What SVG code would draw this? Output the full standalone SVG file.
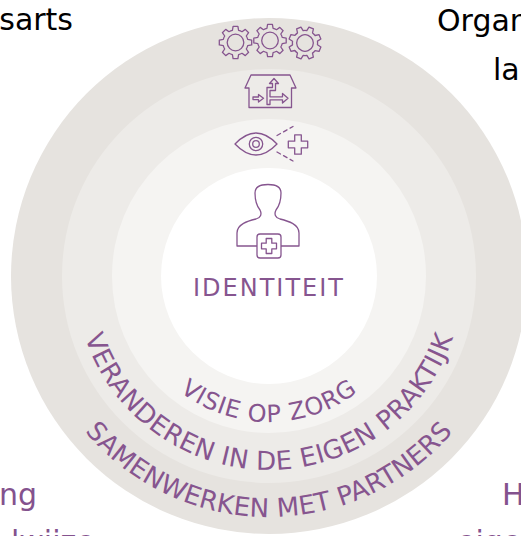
<svg xmlns="http://www.w3.org/2000/svg" xmlns:xlink="http://www.w3.org/1999/xlink" width="521" height="536" viewBox="0 0 521 536">
<style>
.ic{fill:none;stroke:#86558F;stroke-width:1.3;stroke-linejoin:round;stroke-linecap:round}
.icw{fill:#ffffff;stroke:#86558F;stroke-width:1.3;stroke-linejoin:round}
.ring{font-family:"DejaVu Sans",Verdana,sans-serif;fill:#86558F}
.corner{font-family:"DejaVu Sans",Verdana,sans-serif;font-size:30px}
</style>
<defs>
<path id="gear" d="M-3.1,-12.2 L-2.4,-16.2 L2.4,-16.2 L3.1,-12.2 A12.6,12.6 0 0 1 6.5,-10.8 L9.8,-13.1 L13.1,-9.8 L10.8,-6.5 A12.6,12.6 0 0 1 12.2,-3.1 L16.2,-2.4 L16.2,2.4 L12.2,3.1 A12.6,12.6 0 0 1 10.8,6.5 L13.1,9.8 L9.8,13.1 L6.5,10.8 A12.6,12.6 0 0 1 3.1,12.2 L2.4,16.2 L-2.4,16.2 L-3.1,12.2 A12.6,12.6 0 0 1 -6.5,10.8 L-9.8,13.1 L-13.1,9.8 L-10.8,6.5 A12.6,12.6 0 0 1 -12.2,3.1 L-16.2,2.4 L-16.2,-2.4 L-12.2,-3.1 A12.6,12.6 0 0 1 -10.8,-6.5 L-13.1,-9.8 L-9.8,-13.1 L-6.5,-10.8 A12.6,12.6 0 0 1 -3.1,-12.2 Z M8.3,0 A8.3,8.3 0 1 0 -8.3,0 A8.3,8.3 0 1 0 8.3,0 Z"/>
<path id="arcVisie" d="M123,276 A146,146 0 0 0 415,276"/>
<path id="arcVeranderen" d="M75,276 A194,194 0 0 0 463,276"/>
<path id="arcSamen" d="M28,276 A241,241 0 0 0 510,276"/>
</defs>
<rect width="521" height="536" fill="#ffffff"/>

<g id="corner-labels">
<text class="corner" x="73" y="30" text-anchor="end" fill="#000000">sarts</text>
<text class="corner" x="437" y="31" fill="#000000">Organ</text>
<text class="corner" x="493" y="80" fill="#000000">la</text>
<text class="corner" x="37" y="505" text-anchor="end" fill="#84528E">ng</text>
<text class="corner" x="11" y="552" fill="#84528E">lwijze</text>
<text class="corner" x="502" y="505" fill="#84528E">H</text>
<text class="corner" x="457" y="552" fill="#84528E">eigen</text>
</g>

<g id="ring-samenwerken">
<circle cx="269" cy="276" r="258" fill="#E6E3DF"/>
<text class="ring" font-size="26" letter-spacing="0.3"><textPath xlink:href="#arcSamen" startOffset="50%" text-anchor="middle">SAMENWERKEN MET PARTNERS</textPath></text>
</g>
<g id="ring-veranderen">
<circle cx="269" cy="276" r="207" fill="#EDEBE8"/>
<text class="ring" font-size="26" letter-spacing="0.5"><textPath xlink:href="#arcVeranderen" startOffset="50%" text-anchor="middle">VERANDEREN IN DE EIGEN PRAKTIJK</textPath></text>
</g>
<g id="ring-visie">
<circle cx="269" cy="276" r="157" fill="#F5F4F2"/>
<text class="ring" font-size="24" letter-spacing="0.9"><textPath xlink:href="#arcVisie" startOffset="50%" text-anchor="middle">VISIE OP ZORG</textPath></text>
</g>
<g id="identiteit">
<circle cx="269" cy="276" r="108" fill="#FFFFFF"/>
<text class="ring" x="269" y="296" font-size="24" letter-spacing="2" text-anchor="middle">IDENTITEIT</text>
</g>

<g id="icon-gears">
<use xlink:href="#gear" class="ic" transform="translate(235.5,42.5)"/>
<use xlink:href="#gear" class="ic" transform="translate(270,40.5)"/>
<use xlink:href="#gear" class="ic" transform="translate(305,43) rotate(22.5)"/>
</g>

<g id="icon-house">
<path class="ic" d="M249,107.5 V88 H245 L251,75 H290 L296,88 H291.5 V107.5 Z"/>
<path class="ic" d="M253,97 H258.5 V94.5 L263.5,98.3 L258.5,102 V99.6 H253 Z"/>
<path class="ic" d="M267,104.5 V87.5 H272.5 V83.5 H269.5 L274,78.5 L278.5,83.5 H275.5 V90.5 H270 V96.8 H282.5 V93.5 L288,98.3 L282.5,103 V99.8 H270 V104.5 Z"/>
</g>

<g id="icon-eye">
<path class="ic" d="M235,144 Q256,122 277,144 Q256,166 235,144 Z"/>
<circle class="ic" cx="256" cy="144" r="6.7"/>
<circle class="ic" cx="256" cy="144" r="3.3"/>
<path class="ic" d="M277,135.5 L293,126.5 M277,152 L293,161" stroke-dasharray="4 3.5"/>
<path class="ic" d="M294.7,134.8 H301.3 V141.2 H307.7 V147.8 H301.3 V154.2 H294.7 V147.8 H288.3 V141.2 H294.7 Z"/>
</g>

<g id="icon-person">
<path class="ic" d="M257,246 H237 V233 C237,224 248,221 256,219 C261,217.5 262,214 260,210 C256,205 255,199 255,193 C255,187 260,184.5 268,184.5 C276,184.5 281,187 281,193 C281,199 280,205 276,210 C274,214 275,217.5 280,219 C288,221 299,224 299,233 V246 H281"/>
<rect class="icw" x="257" y="234" width="24" height="24" rx="3"/>
<path class="ic" d="M266.2,238.5 H271.8 V243.2 H276.5 V248.8 H271.8 V253.5 H266.2 V248.8 H261.5 V243.2 H266.2 Z"/>
</g>

<g id="connectors"/>
</svg>
